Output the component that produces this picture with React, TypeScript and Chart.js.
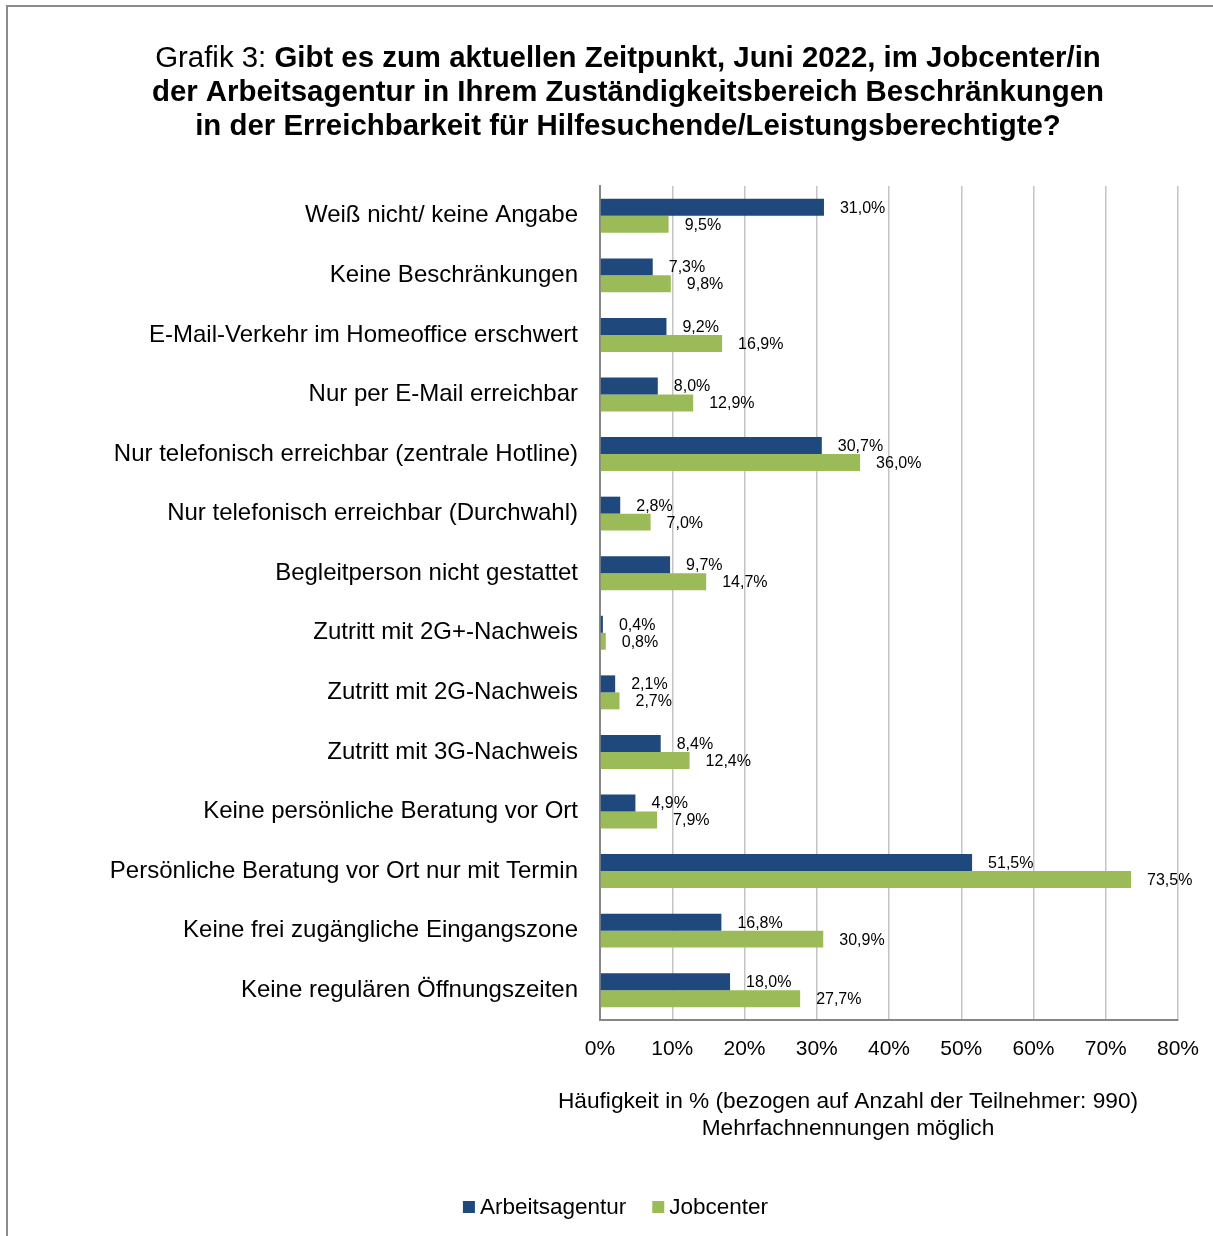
import React, { useEffect, useRef } from "react";
import { Chart, registerables } from "chart.js";

Chart.register(...registerables);

const categories: string[] = [
  "Weiß nicht/ keine Angabe",
  "Keine Beschränkungen",
  "E-Mail-Verkehr im Homeoffice erschwert",
  "Nur per E-Mail erreichbar",
  "Nur telefonisch erreichbar (zentrale Hotline)",
  "Nur telefonisch erreichbar (Durchwahl)",
  "Begleitperson nicht gestattet",
  "Zutritt mit 2G+-Nachweis",
  "Zutritt mit 2G-Nachweis",
  "Zutritt mit 3G-Nachweis",
  "Keine persönliche Beratung vor Ort",
  "Persönliche Beratung vor Ort nur mit Termin",
  "Keine frei zugängliche Eingangszone",
  "Keine regulären Öffnungszeiten",
];

const arbeitsagentur: number[] = [31.0, 7.3, 9.2, 8.0, 30.7, 2.8, 9.7, 0.4, 2.1, 8.4, 4.9, 51.5, 16.8, 18.0];
const jobcenter: number[] = [9.5, 9.8, 16.9, 12.9, 36.0, 7.0, 14.7, 0.8, 2.7, 12.4, 7.9, 73.5, 30.9, 27.7];

const seriesNames: string[] = ["Arbeitsagentur", "Jobcenter"];
const titlePrefix = "Grafik 3: ";
const titleLines: string[] = [
  "Gibt es zum aktuellen Zeitpunkt, Juni 2022, im Jobcenter/in",
  "der Arbeitsagentur in Ihrem Zuständigkeitsbereich Beschränkungen",
  "in der Erreichbarkeit für Hilfesuchende/Leistungsberechtigte?",
];
const axisTitleLines: string[] = [
  "Häufigkeit in % (bezogen auf Anzahl der Teilnehmer: 990)",
  "Mehrfachnennungen möglich",
];

const COLORS = ["#1F497D", "#9BBB59"];
const FONT = "'Liberation Sans', Arial, Helvetica, sans-serif";
const W = 1213;
const H = 1236;

const fmt = (v: number) => v.toFixed(1).replace(".", ",") + "%";

const decorPlugin = {
  id: "decor",
  beforeDraw(chart: any) {
    const ctx = chart.ctx;
    ctx.save();
    ctx.fillStyle = "#ffffff";
    ctx.fillRect(0, 0, W, H);
    ctx.strokeStyle = "#8c8c8c";
    ctx.lineWidth = 2;
    ctx.beginPath();
    ctx.moveTo(7, H);
    ctx.lineTo(7, 6);
    ctx.lineTo(W, 6);
    ctx.stroke();
    ctx.restore();
  },
  afterDraw(chart: any) {
    const ctx = chart.ctx;
    ctx.save();
    // Title
    const tSize = 29.4;
    const cx = 628;
    const lineY = [59, 93, 127];
    ctx.textBaseline = "middle";
    ctx.fillStyle = "#000";
    titleLines.forEach((line, i) => {
      const prefix = i === 0 ? titlePrefix : "";
      ctx.font = `normal ${tSize}px ${FONT}`;
      const pw = prefix ? ctx.measureText(prefix).width : 0;
      ctx.font = `bold ${tSize}px ${FONT}`;
      const bw = ctx.measureText(line).width;
      const x0 = cx - (pw + bw) / 2;
      ctx.textAlign = "left";
      if (prefix) {
        ctx.font = `normal ${tSize}px ${FONT}`;
        ctx.fillText(prefix, x0, lineY[i]);
      }
      ctx.font = `bold ${tSize}px ${FONT}`;
      ctx.fillText(line, x0 + pw, lineY[i]);
    });

    // Axis title
    ctx.font = `normal 22.7px ${FONT}`;
    ctx.textAlign = "center";
    axisTitleLines.forEach((line, i) => {
      ctx.fillText(line, 848, 1102 + i * 27);
    });

    // Legend
    ctx.font = `normal 22.5px ${FONT}`;
    const sq = 12;
    const gap = 5;
    const spacing = 26;
    const widths = seriesNames.map((n) => ctx.measureText(n).width);
    const total = widths.reduce((a, w) => a + sq + gap + w, 0) + spacing * (seriesNames.length - 1);
    let x = 615.5 - total / 2;
    const ly = 1207;
    ctx.textAlign = "left";
    seriesNames.forEach((n, i) => {
      ctx.fillStyle = COLORS[i];
      ctx.fillRect(x, ly - sq / 2, sq, sq);
      ctx.fillStyle = "#000";
      ctx.fillText(n, x + sq + gap, ly + 1);
      x += sq + gap + widths[i] + spacing;
    });
    ctx.restore();
  },
  afterDatasetsDraw(chart: any) {
    const ctx = chart.ctx;
    ctx.save();
    ctx.font = `normal 16px ${FONT}`;
    ctx.fillStyle = "#000";
    ctx.textAlign = "left";
    ctx.textBaseline = "middle";
    chart.data.datasets.forEach((ds: any, di: number) => {
      const meta = chart.getDatasetMeta(di);
      meta.data.forEach((bar: any, i: number) => {
        ctx.fillText(fmt(ds.data[i]), bar.x + 16, bar.y + 1);
      });
    });
    ctx.restore();
  },
};

export default function App() {
  const ref = useRef<HTMLCanvasElement | null>(null);

  useEffect(() => {
    document.body.style.margin = "0";
    if (!ref.current) return;
    const chart = new Chart(ref.current, {
      type: "bar",
      data: {
        labels: categories,
        datasets: [
          {
            label: seriesNames[0],
            data: arbeitsagentur,
            backgroundColor: COLORS[0],
            borderWidth: 0,
          },
          {
            label: seriesNames[1],
            data: jobcenter,
            backgroundColor: COLORS[1],
            borderWidth: 0,
          },
        ],
      },
      options: {
        indexAxis: "y",
        responsive: false,
        animation: false,
        devicePixelRatio: 1,
        layout: { padding: { top: 186, left: 100, right: 35, bottom: 0 } },
        datasets: {
          bar: { categoryPercentage: 0.57, barPercentage: 1 },
        },
        plugins: {
          legend: { display: false },
          title: { display: false },
          tooltip: { enabled: false },
        },
        scales: {
          x: {
            min: 0,
            max: 80,
            ticks: {
              stepSize: 10,
              callback: (v: any) => v + "%",
              color: "#000",
              font: { family: FONT, size: 21 },
              padding: 17,
              maxRotation: 0,
            },
            grid: { color: "#c4c4c4", lineWidth: 1.5, drawTicks: false },
            border: { color: "#868686", width: 2 },
            afterFit: (s: any) => {
              s.height = 216;
              s.paddingRight = 0;
              s.paddingLeft = 0;
            },
          },
          y: {
            ticks: {
              color: "#000",
              font: { family: FONT, size: 24 },
              padding: 22,
              autoSkip: false,
            },
            grid: { display: false, drawTicks: false },
            border: { color: "#868686", width: 2 },
            afterFit: (s: any) => {
              s.width = 500;
            },
          },
        },
      },
      plugins: [decorPlugin],
    } as any);
    return () => chart.destroy();
  }, []);

  return (
    <div style={{ position: "absolute", left: 0, top: 0, width: W, height: H }}>
      <canvas ref={ref} width={W} height={H} style={{ display: "block" }} />
    </div>
  );
}
